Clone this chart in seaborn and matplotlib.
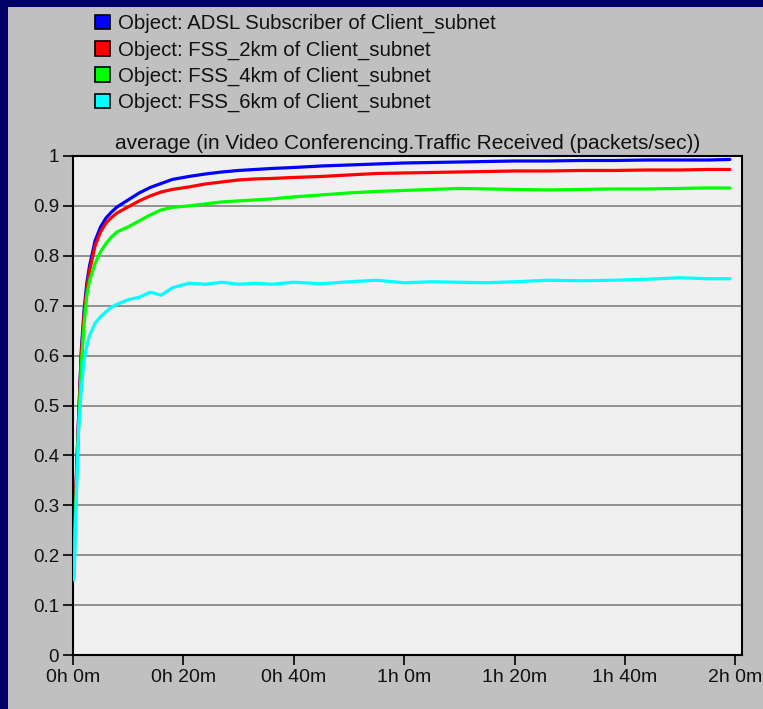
import numpy as np
import pandas as pd
import matplotlib
matplotlib.use("Agg")
import matplotlib.pyplot as plt
from matplotlib.patches import Rectangle, Patch
import seaborn as sns

# time axis in minutes
minutes = [0.2, 0.5, 1, 1.5, 2, 2.5, 3, 4, 5, 6, 7, 8, 10, 12, 14, 16, 18, 21, 24, 27, 30,
           33, 36, 40, 45, 50, 55, 60, 65, 70, 75, 80, 86, 92, 98, 104, 110, 115, 119]

adsl = [0.20, 0.32, 0.47, 0.61, 0.69, 0.745, 0.78, 0.83, 0.858, 0.876, 0.888, 0.898,
        0.912, 0.926, 0.937, 0.945, 0.953, 0.959, 0.964, 0.968, 0.971, 0.973, 0.975,
        0.977, 0.980, 0.982, 0.984, 0.986, 0.987, 0.988, 0.989, 0.990, 0.990, 0.991,
        0.991, 0.992, 0.992, 0.992, 0.993]
fss_2km = [0.22, 0.33, 0.47, 0.60, 0.68, 0.735, 0.77, 0.82, 0.848, 0.866, 0.877, 0.886,
           0.898, 0.910, 0.920, 0.928, 0.933, 0.938, 0.944, 0.948, 0.952, 0.954, 0.955,
           0.957, 0.959, 0.962, 0.965, 0.966, 0.967, 0.968, 0.969, 0.970, 0.970, 0.971,
           0.971, 0.972, 0.972, 0.973, 0.973]
fss_4km = [0.17, 0.30, 0.45, 0.58, 0.66, 0.72, 0.75, 0.785, 0.808, 0.825, 0.838, 0.848,
           0.858, 0.870, 0.882, 0.892, 0.897, 0.900, 0.904, 0.908, 0.910, 0.912, 0.914,
           0.918, 0.922, 0.926, 0.929, 0.931, 0.933, 0.935, 0.934, 0.933, 0.932, 0.933,
           0.934, 0.934, 0.935, 0.936, 0.936]
fss_6km = [0.15, 0.28, 0.45, 0.53, 0.59, 0.62, 0.64, 0.665, 0.678, 0.688, 0.697, 0.703,
           0.712, 0.717, 0.727, 0.721, 0.736, 0.745, 0.743, 0.747, 0.743, 0.745, 0.743,
           0.747, 0.744, 0.748, 0.751, 0.746, 0.748, 0.747, 0.746, 0.748, 0.751, 0.750,
           0.751, 0.753, 0.756, 0.754, 0.754]

series_names = ["Object: ADSL Subscriber of Client_subnet",
                "Object: FSS_2km of Client_subnet",
                "Object: FSS_4km of Client_subnet",
                "Object: FSS_6km of Client_subnet"]
series_colors = ["#0000FF", "#FF0000", "#00FF00", "#00FFFF"]

x_ticks = [0, 20, 40, 60, 80, 100, 120]
x_labels = ["0h 0m", "0h 20m", "0h 40m", "1h 0m", "1h 20m", "1h 40m", "2h 0m"]
y_ticks = [0, 0.1, 0.2, 0.3, 0.4, 0.5, 0.6, 0.7, 0.8, 0.9, 1]
y_labels = ["0", "0.1", "0.2", "0.3", "0.4", "0.5", "0.6", "0.7", "0.8", "0.9", "1"]

title = "average (in Video Conferencing.Traffic Received (packets/sec))"

# long form table for seaborn
frames = []
for name, vals in zip(series_names, [adsl, fss_2km, fss_4km, fss_6km]):
    frames.append(pd.DataFrame({"minutes": minutes, "value": vals, "series": name}))
df = pd.concat(frames, ignore_index=True)

sns.set_theme(style="white")
plt.rcParams["font.family"] = ["Liberation Sans", "DejaVu Sans"]

W, H = 763, 709
fig = plt.figure(figsize=(W / 100, H / 100), dpi=100, facecolor="#000066")
fig.patches.append(Rectangle((8 / W, 0), 1, 1 - 7 / H, transform=fig.transFigure,
                             facecolor="#C0C0C0", edgecolor="none", zorder=-1))

ax = fig.add_axes([73 / W, (H - 655) / H, (742 - 73) / W, (655 - 156) / H])
ax.set_facecolor("#F0F0F0")

sns.lineplot(data=df, x="minutes", y="value", hue="series", hue_order=series_names,
             palette=dict(zip(series_names, series_colors)), linewidth=2.3,
             legend=False, ax=ax, zorder=3)

ax.set_xlim(0, 121.2)
ax.set_ylim(0, 1)
ax.set_xticks(x_ticks)
ax.set_xticklabels(x_labels, fontsize=14)
ax.set_yticks(y_ticks)
ax.set_yticklabels(y_labels, fontsize=13.5)
ax.set_xlabel("")
ax.set_ylabel("")
ax.yaxis.grid(True, color="#808080", linewidth=1.2)
ax.xaxis.grid(False)
ax.tick_params(axis="both", direction="out", length=7, width=1.2, color="black",
               labelcolor="#111111", pad=3, left=True, bottom=True)
for s in ax.spines.values():
    s.set_color("black")
    s.set_linewidth(1.5)

ax.set_title(title, fontsize=15, color="#111111", pad=5)

handles = [Patch(facecolor=c, edgecolor="black", linewidth=1.2) for c in series_colors]
fig.legend(handles, series_names, loc="upper left", bbox_to_anchor=(95 / W, 1 - 14 / H),
           frameon=False, fontsize=14.7, handlelength=0.72, handleheight=0.72,
           handletextpad=0.4, labelspacing=0.35, borderpad=0, borderaxespad=0,
           labelcolor="#111111")

fig.savefig("out.png", dpi=100, facecolor=fig.get_facecolor())
